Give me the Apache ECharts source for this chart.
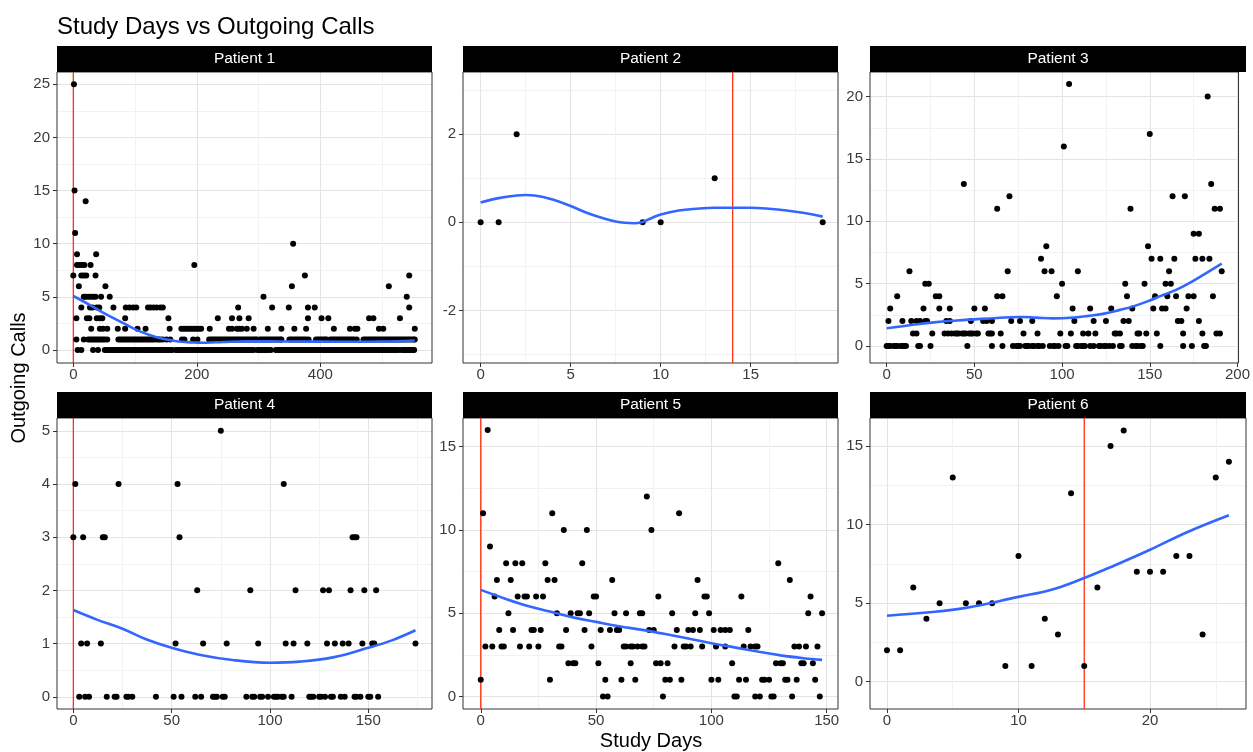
<!DOCTYPE html>
<html><head><meta charset="utf-8">
<script src="https://cdn.jsdelivr.net/npm/echarts@6/dist/echarts.min.js"></script>
<style>html,body{margin:0;padding:0;background:#fff}#c{width:1253px;height:752px}</style>
</head><body><div id="c"></div>
<script>
const chartTitle = 'Study Days vs Outgoing Calls';
const xTitle = 'Study Days';
const yTitle = 'Outgoing Calls';
const panelTitles = ['Patient 1', 'Patient 2', 'Patient 3', 'Patient 4', 'Patient 5', 'Patient 6'];

// ---- Patient 1 (days listed per call level) ----
const p1Levels = [0, 1, 2, 3, 4, 5, 6, 7, 8, 9, 10, 11, 14, 15, 25];
const p1DaysByLevel = [
  [7,13,32,40,51,54,57,60,63,66,69,72,75,78,81,84,87,90,93,96,99,102,105,109,112,115,118,121,124,127,130,133,136,139,142,145,148,151,154,157,160,166,169,172,175,178,181,184,187,190,193,196,199,202,205,208,211,214,217,220,223,226,229,232,235,238,241,244,247,250,253,256,259,262,265,268,271,274,277,280,283,286,289,292,298,301,304,307,310,313,316,320,328,331,334,337,340,343,346,349,352,355,358,361,364,367,370,373,376,379,382,385,388,391,394,397,400,404,407,410,413,416,419,422,425,428,431,434,437,440,443,446,449,452,455,458,461,464,467,470,473,476,479,482,485,488,491,494,497,500,503,506,509,512,515,518,521,524,527,532,535,538,541,544,547,550,552],
  [5,17,24,27,30,33,36,39,42,45,48,51,55,73,76,79,82,85,88,91,94,97,100,103,106,109,112,115,118,121,124,127,130,134,138,141,145,151,157,176,180,194,201,220,223,226,229,232,235,238,241,244,247,250,253,256,259,262,265,268,271,274,277,280,283,286,289,292,295,297,302,305,308,311,314,317,320,323,326,329,332,335,337,350,353,356,359,362,365,368,371,374,377,381,393,396,399,402,405,408,410,416,419,422,425,428,431,434,437,440,443,446,449,452,455,459,470,473,476,479,482,485,488,491,494,497,500,503,506,509,512,515,518,521,524,527,530,533,536,539,542,545,548,551,553],
  [29,43,48,55,72,84,104,117,156,175,179,183,187,191,195,199,203,207,221,252,257,265,269,273,281,292,315,337,358,377,422,448,456,460,495,502,553],
  [5,22,26,38,43,47,84,154,234,257,269,284,380,402,413,479,486,529],
  [13,27,31,38,42,65,85,91,97,102,121,125,130,135,141,145,267,322,349,380,391,544],
  [17,20,24,28,32,36,45,59,308,540],
  [9,52,354,511],
  [0,13,17,21,36,375,544],
  [6,10,14,18,28,196],
  [6,37],
  [356],
  [3],
  [20],
  [2],
  [1]
];
const p1SmoothDays  = [0, 27, 55, 82, 108, 135, 162, 185, 200, 215, 243, 281, 320, 350, 400, 450, 500, 553];
const p1SmoothCalls = [5.08, 4.23, 3.3, 2.5, 1.75, 1.2, 0.88, 0.74, 0.7, 0.69, 0.76, 0.82, 0.81, 0.8, 0.79, 0.78, 0.8, 0.9];

// ---- Patient 2 ----
const p2Points = [[0,0],[1,0],[2,2],[9,0],[10,0],[13,1],[19,0]];
const p2SmoothDays  = [0, 1, 2, 2.5, 3, 4, 5, 6, 7, 7.5, 8, 8.5, 9, 9.5, 10, 11, 12, 13, 14, 15, 16, 17, 18, 19];
const p2SmoothCalls = [0.45, 0.55, 0.61, 0.62, 0.61, 0.52, 0.37, 0.2, 0.07, 0.02, -0.01, -0.02, 0.01, 0.1, 0.18, 0.27, 0.31, 0.33, 0.33, 0.33, 0.31, 0.27, 0.21, 0.13];

// ---- Patient 3 ----
const p3Levels = [0, 1, 2, 3, 4, 5, 6, 7, 8, 9, 11, 12, 13, 16, 17, 20, 21];
const p3DaysByLevel = [
  [0,1,2,4,5,6,8,9,10,11,18,19,25,46,60,66,72,74,75,76,79,80,81,83,84,86,87,89,93,95,96,98,102,103,108,109,111,112,113,116,118,121,122,124,125,127,129,133,134,140,142,143,145,146,156,169,174,181,182],
  [15,17,26,33,35,37,39,40,41,43,44,45,47,48,49,51,52,58,59,60,65,78,86,99,105,112,115,119,130,131,133,143,144,148,154,169,180,188,190],
  [1,9,14,17,19,22,23,34,36,48,55,57,60,71,76,83,107,118,125,135,138,166,168,178],
  [2,21,30,36,50,56,106,116,128,140,152,157,159,171],
  [6,28,30,63,66,97,137,153,160,165,172,175,186],
  [22,24,100,136,147,159,162],
  [13,69,90,94,109,161,191],
  [88,151,156,164,176,180,184],
  [91,149],
  [175,178],
  [63,139,187,190],
  [70,163,170],
  [44,185],
  [101],
  [150],
  [183],
  [104]
];
const p3SmoothDays  = [0, 15, 27, 40, 50, 63, 76, 85, 95, 105, 115, 124, 133, 141, 150, 156, 165, 172, 181, 191];
const p3SmoothCalls = [1.42, 1.7, 1.9, 2.05, 2.14, 2.25, 2.33, 2.28, 2.22, 2.27, 2.42, 2.6, 2.9, 3.2, 3.65, 4.0, 4.5, 5.0, 5.75, 6.6];

// ---- Patient 4 ----
const p4Levels = [0, 1, 2, 3, 4, 5];
const p4DaysByLevel = [
  [3,6,8,17,21,22,27,28,30,42,51,55,62,65,71,72,73,76,77,88,91,92,95,96,99,102,103,104,106,107,111,120,121,122,125,126,128,131,132,136,138,143,144,146,150,151,155],
  [4,7,14,52,66,78,94,108,112,119,129,133,137,140,147,152,153,174],
  [63,90,113,127,130,141,148,154],
  [0,5,15,16,54,142,143,144],
  [1,23,53,107],
  [75]
];
const p4SmoothDays  = [0, 12, 25, 37, 50, 64, 81, 100, 115, 132, 149, 162, 174];
const p4SmoothCalls = [1.63, 1.45, 1.28, 1.08, 0.92, 0.79, 0.69, 0.64, 0.66, 0.74, 0.91, 1.06, 1.25];

// ---- Patient 5 ----
const p5Points = [[0,1],[1,11],[2,3],[3,16],[4,9],[5,3],[6,6],[7,7],[8,4],[9,3],[10,3],[11,8],[12,5],[13,7],[14,4],[15,8],[16,6],[17,3],[18,8],[19,6],[20,6],[21,3],[22,4],[23,4],[24,6],[25,3],[26,4],[27,6],[28,8],[29,7],[30,1],[31,11],[32,7],[33,5],[34,3],[35,3],[36,10],[37,4],[38,2],[39,5],[40,2],[41,2],[42,5],[43,5],[44,8],[45,4],[46,10],[47,5],[48,3],[49,6],[50,6],[51,2],[52,4],[53,0],[54,1],[55,0],[56,4],[57,7],[58,5],[59,4],[60,4],[61,1],[62,3],[63,3],[63,5],[65,3],[65,2],[66,3],[67,1],[68,3],[69,5],[70,5],[70,3],[71,3],[72,12],[73,4],[74,10],[75,4],[76,2],[77,6],[78,2],[79,0],[80,1],[81,2],[82,1],[83,5],[84,3],[85,4],[86,11],[87,1],[88,3],[89,3],[90,4],[91,3],[92,4],[93,5],[94,7],[95,4],[96,3],[97,6],[98,6],[99,5],[100,1],[101,4],[102,3],[103,1],[104,4],[106,4],[106,3],[108,4],[109,2],[110,0],[111,0],[112,1],[113,6],[114,3],[115,1],[116,4],[117,3],[119,3],[119,0],[120,3],[121,0],[122,1],[123,1],[125,1],[126,0],[127,0],[128,2],[129,8],[130,2],[131,2],[132,1],[133,1],[134,7],[135,0],[136,3],[137,1],[138,3],[139,2],[140,2],[141,3],[142,5],[143,6],[144,2],[145,1],[146,3],[147,0],[148,5]];
const p5SmoothDays  = [0, 10, 20, 30, 40, 50, 60, 70, 80, 90, 100, 110, 120, 130, 140, 148];
const p5SmoothCalls = [6.4, 5.9, 5.45, 5.1, 4.75, 4.48, 4.22, 4.0, 3.75, 3.48, 3.2, 2.95, 2.7, 2.47, 2.3, 2.2];

// ---- Patient 6 ----
const p6Points = [[0,2],[1,2],[2,6],[3,4],[4,5],[5,13],[6,5],[7,5],[8,5],[9,1],[10,8],[11,1],[12,4],[13,3],[14,12],[15,1],[16,6],[17,15],[18,16],[19,7],[20,7],[21,7],[22,8],[23,8],[24,3],[25,13],[26,14]];
const p6SmoothDays  = [0, 3, 6, 10, 12.5, 15, 17.3, 20, 22.9, 26];
const p6SmoothCalls = [4.2, 4.4, 4.7, 5.4, 5.85, 6.6, 7.4, 8.4, 9.55, 10.6];

// red reference lines (null = none)
const redLineDays = [0, 14, null, 0, 0, 15];

// axis breaks and domains
const xTicks = [[0,200,400],[0,5,10,15],[0,50,100,150,200],[0,50,100,150],[0,50,100,150],[0,10,20]];
const xMinorTicks = [[100,300,500],[2.5,7.5,12.5,17.5],[25,75,125,175],[25,75,125,175],[25,75,125],[5,15,25]];
const yTicks = [[0,5,10,15,20,25],[-2,0,2],[0,5,10,15,20],[0,1,2,3,4,5],[0,5,10,15],[0,5,10,15]];
const yMinorTicks = [[2.5,7.5,12.5,17.5,22.5],[-3,-1,1,3],[2.5,7.5,12.5,17.5],[0.5,1.5,2.5,3.5,4.5],[2.5,7.5,12.5],[2.5,7.5,12.5]];
const xDomains = [[-26.4,580.9],[-0.98,19.85],[-9.5,200.6],[-8.3,182.4],[-7.7,154.9],[-1.29,27.3]];
const yDomains = [[-1.22,26.15],[-3.19,3.41],[-1.36,21.97],[-0.23,5.24],[-0.75,16.72],[-1.74,16.79]];

// ---------- build ----------
const FONT = '"Liberation Sans", Arial, Helvetica, sans-serif';
function levelsToPairs(levels, daysByLevel) {
  const out = [];
  levels.forEach((lv, k) => daysByLevel[k].forEach(d => out.push([d, lv])));
  return out;
}
function zip(a, b) { return a.map((v, i) => [v, b[i]]); }

const pointSets = [
  levelsToPairs(p1Levels, p1DaysByLevel), p2Points,
  levelsToPairs(p3Levels, p3DaysByLevel), levelsToPairs(p4Levels, p4DaysByLevel),
  p5Points, p6Points
];
const smoothSets = [
  zip(p1SmoothDays, p1SmoothCalls), zip(p2SmoothDays, p2SmoothCalls), zip(p3SmoothDays, p3SmoothCalls),
  zip(p4SmoothDays, p4SmoothCalls), zip(p5SmoothDays, p5SmoothCalls), zip(p6SmoothDays, p6SmoothCalls)
];

const colLeft = [57, 463, 870], colWidth = [375, 375, 376];
const rowTop = [72, 418], plotH = 291, stripH = 26;

const grids = [], xAxes = [], yAxes = [], series = [], graphics = [];
for (let i = 0; i < 6; i++) {
  const c = i % 3, r = Math.floor(i / 3);
  grids.push({ left: colLeft[c], top: rowTop[r], width: colWidth[c], height: plotH,
    show: true, borderColor: '#333333', borderWidth: 1, backgroundColor: 'transparent', z: 1 });
  const labelStyle = { color: '#3a3a3a', fontSize: 15, fontFamily: FONT };
  // major axes
  xAxes.push({ type: 'value', gridIndex: i, min: xDomains[i][0], max: xDomains[i][1], position: 'bottom',
    axisLine: { show: false, onZero: false },
    axisTick: { show: true, length: 4, lineStyle: { color: '#333333', width: 1 }, customValues: xTicks[i] },
    axisLabel: Object.assign({ margin: 4, customValues: xTicks[i] }, labelStyle),
    splitLine: { show: true, lineStyle: { color: '#e4e4e4', width: 1 } } });
  yAxes.push({ type: 'value', gridIndex: i, min: yDomains[i][0], max: yDomains[i][1], position: 'left',
    axisLine: { show: false, onZero: false },
    axisTick: { show: true, length: 4, lineStyle: { color: '#333333', width: 1 }, customValues: yTicks[i] },
    axisLabel: Object.assign({ margin: 7, customValues: yTicks[i] }, labelStyle),
    splitLine: { show: true, lineStyle: { color: '#e4e4e4', width: 1 } } });
  // strip
  graphics.push({ type: 'rect', silent: true, z: 10,
    shape: { x: colLeft[c], y: rowTop[r] - stripH, width: colWidth[c], height: stripH },
    style: { fill: '#000000' } });
  graphics.push({ type: 'text', silent: true, z: 11, x: colLeft[c] + colWidth[c] / 2, y: rowTop[r] - stripH / 2,
    style: { text: panelTitles[i], fill: '#ffffff', fontSize: 15.5, fontFamily: FONT,
      align: 'center', verticalAlign: 'middle', textAlign: 'center', textVerticalAlign: 'middle' } });
}
// minor grid axes
for (let i = 0; i < 6; i++) {
  xAxes.push({ type: 'value', gridIndex: i, min: xDomains[i][0], max: xDomains[i][1], position: 'top',
    axisLine: { show: false, onZero: false }, axisTick: { show: false, customValues: xMinorTicks[i] },
    axisLabel: { show: false, customValues: xMinorTicks[i] },
    splitLine: { show: true, lineStyle: { color: '#f2f2f2', width: 1 } } });
  yAxes.push({ type: 'value', gridIndex: i, min: yDomains[i][0], max: yDomains[i][1], position: 'right',
    axisLine: { show: false, onZero: false }, axisTick: { show: false, customValues: yMinorTicks[i] },
    axisLabel: { show: false, customValues: yMinorTicks[i] },
    splitLine: { show: true, lineStyle: { color: '#f2f2f2', width: 1 } } });
}
for (let i = 0; i < 6; i++) {
  if (redLineDays[i] !== null) {
    series.push({ type: 'line', xAxisIndex: i, yAxisIndex: i, z: 2, silent: true, symbol: 'none',
      data: [[redLineDays[i], yDomains[i][0]], [redLineDays[i], yDomains[i][1]]],
      lineStyle: { color: '#ff2200', width: 1.2 } });
  }
  series.push({ type: 'scatter', xAxisIndex: i, yAxisIndex: i, z: 3, silent: true,
    symbol: 'circle', symbolSize: 6, data: pointSets[i], itemStyle: { color: '#000000', opacity: 1 } });
  series.push({ type: 'line', xAxisIndex: i, yAxisIndex: i, z: 4, silent: true, symbol: 'none',
    smooth: 0.4, data: smoothSets[i], lineStyle: { color: '#3366ff', width: 2.6 } });
}
graphics.push({ type: 'text', silent: true, x: 651, y: 741,
  style: { text: xTitle, fill: '#000', fontSize: 20, fontFamily: FONT, align: 'center', verticalAlign: 'middle', textAlign: 'center', textVerticalAlign: 'middle' } });
graphics.push({ type: 'text', silent: true, x: 19, y: 378, rotation: Math.PI / 2,
  style: { text: yTitle, fill: '#000', fontSize: 20, fontFamily: FONT, align: 'center', verticalAlign: 'middle', textAlign: 'center', textVerticalAlign: 'middle' } });

const chart = echarts.init(document.getElementById('c'), null, { renderer: 'canvas', width: 1253, height: 752 });
chart.setOption({
  animation: false,
  backgroundColor: '#ffffff',
  textStyle: { fontFamily: FONT },
  title: { text: chartTitle, left: 57, top: 15, padding: 0,
    textStyle: { fontSize: 24, fontWeight: 'normal', color: '#000000', fontFamily: FONT } },
  grid: grids, xAxis: xAxes, yAxis: yAxes, series: series, graphic: graphics
});
</script></body></html>
